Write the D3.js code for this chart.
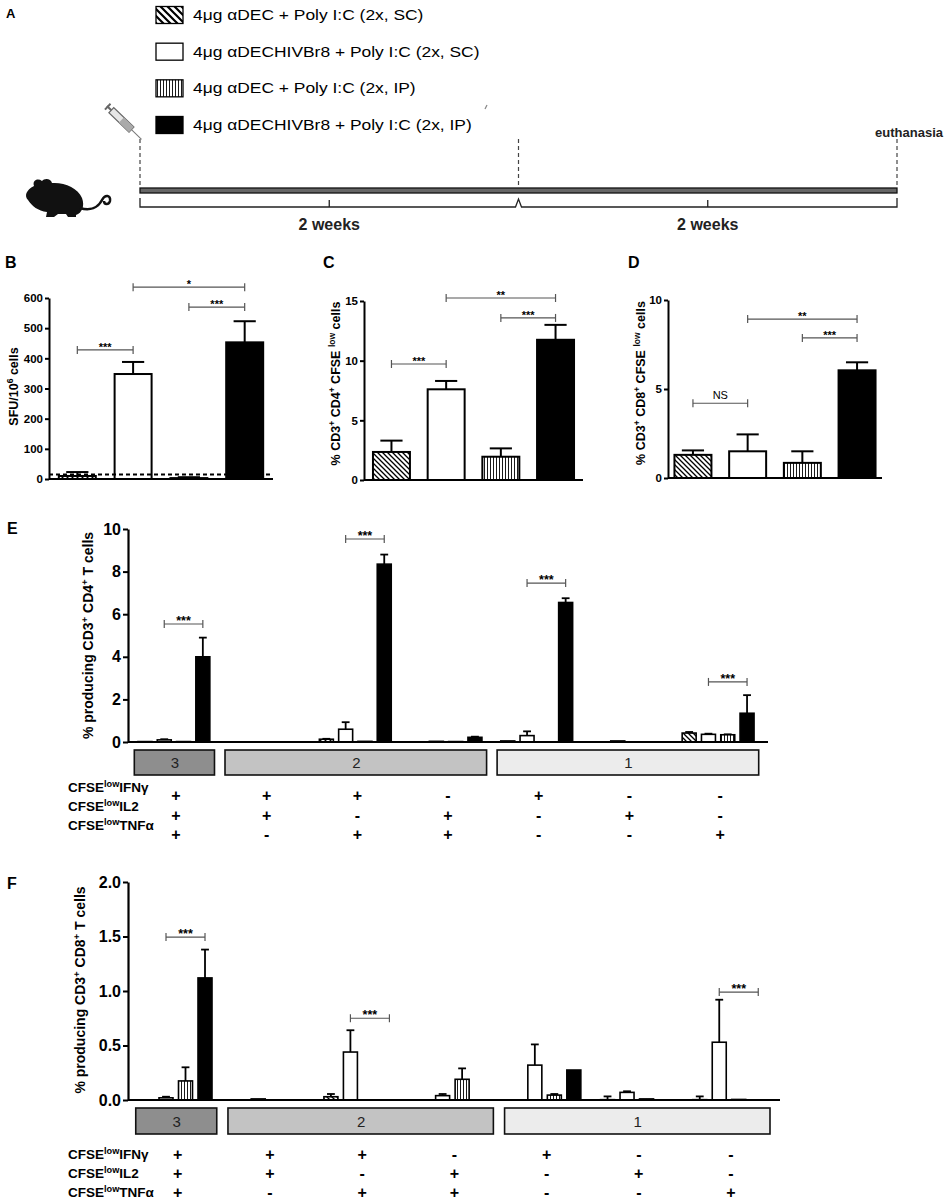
<!DOCTYPE html>
<html>
<head>
<meta charset="utf-8">
<script src="https://cdn.jsdelivr.net/npm/d3@7"></script>
<style>
  body { margin: 0; background: #fff; }
  svg { display: block; }
</style>
</head>
<body>
<div id="mount"></div>
<script>
'use strict';

// ---- data -------------------------------------------------------------
const treatments = ['aDEC SC', 'aDECHIVBr8 SC', 'aDEC IP', 'aDECHIVBr8 IP'];
const legendLabels = [
  '4μg αDEC + Poly I:C (2x, SC)',
  '4μg αDECHIVBr8 + Poly I:C (2x, SC)',
  '4μg αDEC + Poly I:C (2x, IP)',
  '4μg αDECHIVBr8 + Poly I:C (2x, IP)'
];
const timelineWeeks = [0, 2, 4];
const weekLabels = [{ at: 1, text: '2 weeks' }, { at: 3, text: '2 weeks' }];

// B: ELISpot
const sfuMean = [10, 348, 3, 453];
const sfuErr = [13, 40, 3, 70];
const sfuCutoff = 15;
const sfuTicks = [0, 100, 200, 300, 400, 500, 600];
const sfuSig = [
  { a: 0, b: 1, at: 428, text: '***' },
  { a: 1, b: 3, at: 636, text: '*' },
  { a: 2, b: 3, at: 570, text: '***' }
];

// C: CD4 proliferation
const cd4Mean = [2.35, 7.6, 1.95, 11.75];
const cd4Err = [0.95, 0.7, 0.7, 1.25];
const cd4Ticks = [0, 5, 10, 15];
const cd4Sig = [
  { a: 0, b: 1, at: 9.72, text: '***' },
  { a: 1, b: 3, at: 15.25, text: '**' },
  { a: 2, b: 3, at: 13.58, text: '***' }
];

// D: CD8 proliferation
const cd8Mean = [1.3, 1.5, 0.85, 6.05];
const cd8Err = [0.25, 0.95, 0.65, 0.45];
const cd8Ticks = [0, 5, 10];
const cd8Sig = [
  { a: 0, b: 1, at: 4.2, text: 'NS' },
  { a: 1, b: 3, at: 8.93, text: '**' },
  { a: 2, b: 3, at: 7.87, text: '***' }
];

// E / F: cytokine combinations
const combos = ['+++', '++-', '+-+', '-++', '+--', '-+-', '--+'];
const ifngRow = ['+', '+', '+', '-', '+', '-', '-'];
const il2Row  = ['+', '+', '-', '+', '-', '+', '-'];
const tnfRow  = ['+', '-', '+', '+', '-', '-', '+'];
const funcGroups = [
  { label: '3', from: 0, to: 0 },
  { label: '2', from: 1, to: 3 },
  { label: '1', from: 4, to: 6 }
];

const cd4Func = [
  [0.02, 0.1, 0.02, 4.0],
  [0, 0, 0, 0],
  [0.13, 0.6, 0.03, 8.35],
  [0.01, 0.03, 0.02, 0.22],
  [0.05, 0.3, 0, 6.55],
  [0, 0.05, 0, 0],
  [0.42, 0.36, 0.34, 1.35]
];
const cd4FuncErr = [
  [0, 0.03, 0, 0.9],
  [0, 0, 0, 0],
  [0.02, 0.33, 0, 0.45],
  [0, 0, 0, 0.03],
  [0, 0.2, 0, 0.2],
  [0, 0, 0, 0],
  [0.05, 0.03, 0.02, 0.85]
];
const cd4FuncTicks = [0, 2, 4, 6, 8, 10];
const cd4FuncSig = [
  { g: 0, at: 5.54 }, { g: 2, at: 9.53 }, { g: 4, at: 7.46 }, { g: 6, at: 2.82 }
];

const cd8Func = [
  [0, 0.02, 0.175, 1.12],
  [0, 0.01, 0, 0],
  [0.03, 0.44, 0, 0],
  [0, 0.04, 0.19, 0],
  [0, 0.32, 0.045, 0.275],
  [0.003, 0.07, 0.01, 0],
  [0.003, 0.53, 0.005, 0]
];
const cd8FuncErr = [
  [0, 0.01, 0.125, 0.26],
  [0, 0, 0, 0],
  [0.025, 0.2, 0, 0],
  [0, 0.015, 0.1, 0],
  [0, 0.19, 0.01, 0],
  [0.03, 0.01, 0, 0],
  [0.03, 0.39, 0, 0]
];
const cd8FuncTicks = [0, 0.5, 1.0, 1.5, 2.0];
const cd8FuncSig = [{ g: 0, at: 1.495 }, { g: 2, at: 0.75 }, { g: 6, at: 0.99 }];

// ---- drawing ----------------------------------------------------------
const FONT = '"Liberation Sans", Arial, Helvetica, sans-serif';

const svg = d3.select('#mount').append('svg')
    .attr('width', 945)
    .attr('height', 1199)
    .attr('font-family', FONT);

const defs = svg.append('defs');

function hatch(id, w, d, sw) {
  const p = defs.append('pattern')
      .attr('id', id)
      .attr('patternUnits', 'userSpaceOnUse')
      .attr('width', w)
      .attr('height', w);
  p.append('rect').attr('width', w).attr('height', w).attr('fill', '#fff');
  p.append('path').attr('d', d).attr('stroke', '#000').attr('stroke-width', sw);
}
hatch('diag', 5, 'M-1,-1 L6,6 M-1,4 L1,6 M4,-1 L6,1', 1.3);
hatch('vert', 3, 'M1.5,0 V3', 0.9);
hatch('diagBig', 7, 'M-1,-1 L8,8 M-1,6 L1,8 M6,-1 L8,1', 2.2);

const fills = ['url(#diag)', '#fff', 'url(#vert)', '#000'];
const legendFills = ['url(#diagBig)', '#fff', 'url(#vert)', '#000'];

// text with superscript parts: plain strings or [string] for superscript
function rich(textSel, parts, size) {
  let shifted = 0;
  parts.forEach(p => {
    const sup = Array.isArray(p);
    const shift = sup ? -size * 0.38 : 0;
    textSel.append('tspan')
        .text(sup ? p[0] : p)
        .attr('dy', shift - shifted)
        .attr('font-size', sup ? size * 0.68 : size);
    shifted = shift;
  });
}

function letter(txt, x, y, size) {
  svg.append('text')
      .attr('x', x).attr('y', y)
      .attr('font-size', size)
      .attr('font-weight', 'bold')
      .text(txt);
}

function styleAxis(g, size) {
  g.attr('font-family', FONT).attr('font-size', size).attr('font-weight', 'bold');
  g.select('.domain').attr('stroke', '#000').attr('stroke-width', 2);
  g.selectAll('.tick line').attr('stroke', '#000').attr('stroke-width', 2);
  g.selectAll('.tick text').attr('fill', '#000');
}

function bracket(g, x1, x2, y, text, opt) {
  g.append('line')
      .attr('x1', x1).attr('x2', x2).attr('y1', y).attr('y2', y)
      .attr('stroke', '#555').attr('stroke-width', 1.2);
  [x1, x2].forEach(x => g.append('line')
      .attr('x1', x).attr('x2', x).attr('y1', y - opt.tick).attr('y2', y + opt.tick)
      .attr('stroke', '#555').attr('stroke-width', 1.2));
  const ns = text === 'NS';
  g.append('text')
      .attr('x', (x1 + x2) / 2)
      .attr('y', ns ? y - 4 : y + opt.starDy)
      .attr('text-anchor', 'middle')
      .attr('font-size', ns ? opt.nsSize : opt.starSize)
      .attr('font-weight', ns ? 'normal' : 'bold')
      .text(text);
}

// ---- panel A ----------------------------------------------------------
letter('A', 6, 18, 13);

const legend = svg.append('g');
const legendRowY = d3.scalePoint().domain(legendLabels).range([15, 125]);
legend.selectAll('rect')
    .data(legendLabels)
  .enter().append('rect')
    .attr('x', 156)
    .attr('y', d => legendRowY(d) - 8.5)
    .attr('width', 27)
    .attr('height', 17)
    .attr('fill', (d, i) => legendFills[i])
    .attr('stroke', '#000')
    .attr('stroke-width', 1.3);
legend.selectAll('text')
    .data(legendLabels)
  .enter().append('text')
    .attr('x', 193)
    .attr('y', d => legendRowY(d) + 5)
    .attr('font-size', 15)
    .text(d => d)
    .each(function () {
      const w = this.getComputedTextLength();
      d3.select(this).attr('textLength', w * 1.16).attr('lengthAdjust', 'spacingAndGlyphs');
    });

const xWeek = d3.scaleLinear().domain([0, 4]).range([140, 897]);
const timeline = svg.append('g');

timeline.selectAll('line.dash')
    .data(timelineWeeks)
  .enter().append('line')
    .attr('class', 'dash')
    .attr('x1', d => xWeek(d)).attr('x2', d => xWeek(d))
    .attr('y1', 139).attr('y2', 188)
    .attr('stroke', '#444')
    .attr('stroke-width', 1.2)
    .attr('stroke-dasharray', '4,3');

timeline.append('rect')
    .attr('x', xWeek(0)).attr('y', 188)
    .attr('width', xWeek(4) - xWeek(0)).attr('height', 5)
    .attr('fill', '#666').attr('stroke', '#111').attr('stroke-width', 1.3);

timeline.append('path')
    .attr('d', `M${xWeek(0)},198 V207 H${xWeek(2) - 3} L${xWeek(2)},199 L${xWeek(2) + 3},207 H${xWeek(4)} V198`)
    .attr('fill', 'none').attr('stroke', '#222').attr('stroke-width', 1.3);

timeline.selectAll('line.mid')
    .data(weekLabels)
  .enter().append('line')
    .attr('class', 'mid')
    .attr('x1', d => xWeek(d.at)).attr('x2', d => xWeek(d.at))
    .attr('y1', 200).attr('y2', 207)
    .attr('stroke', '#222').attr('stroke-width', 1.3);

timeline.selectAll('text.week')
    .data(weekLabels)
  .enter().append('text')
    .attr('class', 'week')
    .attr('x', d => xWeek(d.at))
    .attr('y', 230)
    .attr('text-anchor', 'middle')
    .attr('font-size', 16)
    .attr('font-weight', 'bold')
    .attr('fill', '#222')
    .text(d => d.text);

timeline.append('text')
    .attr('x', 943).attr('y', 137)
    .attr('text-anchor', 'end')
    .attr('font-size', 13)
    .attr('font-weight', 'bold')
    .attr('fill', '#222')
    .text('euthanasia');

// syringe
const syr = svg.append('g').attr('transform', 'translate(107,106) rotate(44)');
syr.append('line').attr('x1', 0).attr('x2', 6).attr('y1', 0).attr('y2', 0)
    .attr('stroke', '#666').attr('stroke-width', 2);
syr.append('line').attr('x1', 1).attr('x2', 1).attr('y1', -4).attr('y2', 4)
    .attr('stroke', '#666').attr('stroke-width', 2);
syr.append('rect').attr('x', 6).attr('y', -3.5).attr('width', 28).attr('height', 7)
    .attr('fill', '#e6e6e6').attr('stroke', '#666').attr('stroke-width', 1.2);
syr.append('rect').attr('x', 20).attr('y', -3.5).attr('width', 14).attr('height', 7)
    .attr('fill', '#aaa').attr('stroke', 'none');
syr.append('line').attr('x1', 34).attr('x2', 48).attr('y1', 0).attr('y2', 0)
    .attr('stroke', '#777').attr('stroke-width', 1);
svg.append('line').attr('x1', 485).attr('x2', 487).attr('y1', 109).attr('y2', 105)
    .attr('stroke', '#888').attr('stroke-width', 1.2);

// mouse
const mouse = svg.append('g').attr('transform', 'translate(24,178)');
mouse.append('path')
    .attr('d', 'M10,8 C8,2 14,0 18,3 C20,0 27,0 28,5 C40,4 54,10 58,20 C61,28 58,35 52,37 L52,39 L44,39 L42,36 L34,36 L30,39 L22,39 L23,34 C14,33 8,28 4,22 C0,18 2,12 10,8 Z')
    .attr('fill', '#111');
mouse.append('path')
    .attr('d', 'M56,30 C66,33 74,30 78,22 C81,16 87,17 86,23 C85,27 80,27 80,23')
    .attr('fill', 'none').attr('stroke', '#111').attr('stroke-width', 2.5);

// ---- panels B, C, D ---------------------------------------------------
function barPanel(o) {
  const g = svg.append('g');
  const x = d3.scaleBand().domain(treatments)
      .range([o.left, o.right]).paddingInner(o.pi).paddingOuter(o.po);
  const y = d3.scaleLinear().domain([0, o.max]).range([o.bottom, o.top]);
  const bw = x.bandwidth();
  const rows = o.mean.map((v, i) => ({ t: treatments[i], v, e: o.err[i], i }));

  // error bars (drawn first so bar outlines sit on top)
  const eb = g.selectAll('g.err').data(rows.filter(d => d.e > 0)).enter().append('g');
  eb.append('line')
      .attr('x1', d => x(d.t) + bw / 2).attr('x2', d => x(d.t) + bw / 2)
      .attr('y1', d => y(d.v)).attr('y2', d => y(d.v + d.e))
      .attr('stroke', '#000').attr('stroke-width', 2);
  eb.append('line')
      .attr('x1', d => x(d.t) + bw * 0.2).attr('x2', d => x(d.t) + bw * 0.8)
      .attr('y1', d => y(d.v + d.e)).attr('y2', d => y(d.v + d.e))
      .attr('stroke', '#000').attr('stroke-width', 2);

  g.selectAll('rect.bar')
      .data(rows)
    .enter().append('rect')
      .attr('x', d => x(d.t))
      .attr('y', d => y(d.v))
      .attr('width', bw)
      .attr('height', d => y(0) - y(d.v))
      .attr('fill', d => fills[d.i])
      .attr('stroke', '#000')
      .attr('stroke-width', 2);

  if (o.cutoff != null) {
    g.append('line')
        .attr('x1', o.left).attr('x2', o.right)
        .attr('y1', y(o.cutoff)).attr('y2', y(o.cutoff))
        .attr('stroke', '#000').attr('stroke-width', 2).attr('stroke-dasharray', '4,3');
  }

  g.append('line')
      .attr('x1', o.left).attr('x2', o.right)
      .attr('y1', y(0)).attr('y2', y(0))
      .attr('stroke', '#000').attr('stroke-width', 2);

  const ax = g.append('g')
      .attr('transform', `translate(${o.left},0)`)
      .call(d3.axisLeft(y).tickValues(o.ticks).tickSize(4).tickSizeOuter(0).tickPadding(2));
  styleAxis(ax, 11.5);

  o.sig.forEach(s => bracket(g,
      x(treatments[s.a]) + bw / 2, x(treatments[s.b]) + bw / 2, y(s.at), s.text,
      { tick: 4, starDy: 1, starSize: 11, nsSize: 11 }));

  const lab = g.append('text')
      .attr('transform', `translate(${o.labelX},${(o.top + o.bottom) / 2 + o.labelDy}) rotate(-90)`)
      .attr('text-anchor', 'middle')
      .attr('font-weight', 'bold');
  rich(lab, o.label, 12.5);
}

letter('B', 5, 268, 16);
letter('C', 323, 268, 16);
letter('D', 628, 268, 16);

barPanel({
  left: 49, right: 273, pi: 0.337, po: 0.176, bottom: 479, top: 298, max: 600,
  mean: sfuMean, err: sfuErr, ticks: sfuTicks, sig: sfuSig, cutoff: sfuCutoff,
  label: ['SFU/10', ['6'], ' cells'], labelX: 18, labelDy: -2
});
barPanel({
  left: 364, right: 583, pi: 0.324, po: 0.164, bottom: 480, top: 301, max: 15,
  mean: cd4Mean, err: cd4Err, ticks: cd4Ticks, sig: cd4Sig,
  label: ['% CD3', ['+'], ' CD4', ['+'], ' CFSE ', ['low'], ' cells'], labelX: 340, labelDy: -7
});
barPanel({
  left: 668, right: 882, pi: 0.324, po: 0.118, bottom: 478, top: 300, max: 10,
  mean: cd8Mean, err: cd8Err, ticks: cd8Ticks, sig: cd8Sig,
  label: ['% CD3', ['+'], ' CD8', ['+'], ' CFSE ', ['low'], ' cells'], labelX: 645, labelDy: -6
});

// ---- panels E, F ------------------------------------------------------
function funcPanel(o) {
  const g = svg.append('g');
  const xg = d3.scaleBand().domain(combos)
      .range([o.a, o.b]).paddingInner(o.pi).paddingOuter(0);
  const xt = d3.scaleBand().domain(treatments)
      .range([0, xg.bandwidth()]).paddingInner(o.ti).paddingOuter(o.ti / 2);
  const y = d3.scaleLinear().domain([0, o.max]).range([o.bottom, o.top]);
  const bw = xt.bandwidth();

  const rows = [];
  o.mean.forEach((row, gi) => row.forEach((v, ti) => rows.push({
    c: combos[gi], t: treatments[ti], i: ti, v, e: o.err[gi][ti]
  })));
  const bx = d => xg(d.c) + xt(d.t);

  const eb = g.selectAll('g.err').data(rows.filter(d => d.e > 0)).enter().append('g');
  eb.append('line')
      .attr('x1', d => bx(d) + bw / 2).attr('x2', d => bx(d) + bw / 2)
      .attr('y1', d => y(d.v)).attr('y2', d => y(d.v + d.e))
      .attr('stroke', '#000').attr('stroke-width', 1.8);
  eb.append('line')
      .attr('x1', d => bx(d) + bw * 0.22).attr('x2', d => bx(d) + bw * 0.78)
      .attr('y1', d => y(d.v + d.e)).attr('y2', d => y(d.v + d.e))
      .attr('stroke', '#000').attr('stroke-width', 1.8);

  g.selectAll('rect.bar')
      .data(rows.filter(d => d.v > 0))
    .enter().append('rect')
      .attr('x', bx)
      .attr('y', d => y(d.v))
      .attr('width', bw)
      .attr('height', d => y(0) - y(d.v))
      .attr('fill', d => fills[d.i])
      .attr('stroke', '#000')
      .attr('stroke-width', 1.6);

  g.append('line')
      .attr('x1', o.axisLeft).attr('x2', o.axisRight)
      .attr('y1', y(0)).attr('y2', y(0))
      .attr('stroke', '#000').attr('stroke-width', 2.2);

  const ax = g.append('g')
      .attr('transform', `translate(${o.axisLeft},0)`)
      .call(d3.axisLeft(y).tickValues(o.ticks).tickSize(5).tickSizeOuter(0).tickPadding(2)
        .tickFormat(o.fmt));
  styleAxis(ax, 16);
  ax.select('.domain').attr('stroke-width', 2.2);

  o.sig.forEach(s => bracket(g,
      xg(combos[s.g]) + xt(treatments[1]) + bw / 2,
      xg(combos[s.g]) + xt(treatments[3]) + bw / 2,
      y(s.at), '***', { tick: 4, starDy: 1, starSize: 12.5, nsSize: 12 }));

  const lab = g.append('text')
      .attr('transform', `translate(${o.labelX},${(o.top + o.bottom) / 2 + o.labelDy}) rotate(-90)`)
      .attr('text-anchor', 'middle')
      .attr('font-weight', 'bold');
  rich(lab, o.label, 14);

  // combination boxes
  const box = g.selectAll('g.box')
      .data(funcGroups)
    .enter().append('g');
  box.append('rect')
      .attr('x', d => xg(combos[d.from]) - 1)
      .attr('y', o.boxTop)
      .attr('width', d => xg(combos[d.to]) + xg.bandwidth() - xg(combos[d.from]) + 3)
      .attr('height', o.boxH)
      .attr('fill', (d, i) => o.boxFills[i])
      .attr('stroke', '#111')
      .attr('stroke-width', 1.6);
  box.append('text')
      .attr('x', d => (xg(combos[d.from]) + xg(combos[d.to]) + xg.bandwidth()) / 2 + 1)
      .attr('y', o.boxTop + o.boxH / 2 + 5.5)
      .attr('text-anchor', 'middle')
      .attr('font-size', 15)
      .attr('fill', '#222')
      .text(d => d.label);

  // cytokine rows
  const rowDefs = [
    { name: 'IFNγ', signs: ifngRow },
    { name: 'IL2', signs: il2Row },
    { name: 'TNFα', signs: tnfRow }
  ];
  rowDefs.forEach((r, ri) => {
    const t = g.append('text')
        .attr('x', 68)
        .attr('y', o.rowY[ri])
        .attr('font-weight', 'bold');
    rich(t, ['CFSE', ['low'], r.name], 13.5);
    g.selectAll(null)
        .data(r.signs)
      .enter().append('text')
        .attr('x', (d, i) => xg(combos[i]) + xg.bandwidth() / 2 + 2)
        .attr('y', o.signY[ri])
        .attr('dominant-baseline', 'central')
        .attr('text-anchor', 'middle')
        .attr('font-size', 16)
        .attr('font-weight', 'bold')
        .text(d => d);
  });
}

const boxFills = ['#8e8e8e', '#c3c3c3', '#ececec'];

letter('E', 7, 534, 16);
funcPanel({
  a: 135.3, b: 756.7, pi: 0.149, ti: 0.275, axisLeft: 128, axisRight: 768,
  bottom: 742, top: 529, max: 10, ticks: cd4FuncTicks, fmt: d3.format('d'),
  mean: cd4Func, err: cd4FuncErr, sig: cd4FuncSig,
  label: ['% producing CD3', ['+'], ' CD4', ['+'], ' T cells'], labelX: 93, labelDy: 0,
  boxTop: 750, boxH: 25, boxFills,
  rowY: [792, 811, 830], signY: [795, 815, 834]
});

letter('F', 7, 889, 16);
funcPanel({
  a: 136.75, b: 768, pi: 0.154, ti: 0.282, axisLeft: 128, axisRight: 780,
  bottom: 1100, top: 882, max: 2, ticks: cd8FuncTicks, fmt: d3.format('.1f'),
  mean: cd8Func, err: cd8FuncErr, sig: cd8FuncSig,
  label: ['% producing CD3', ['+'], ' CD8', ['+'], ' T cells'], labelX: 85, labelDy: -1,
  boxTop: 1108, boxH: 26, boxFills,
  rowY: [1159, 1178, 1197], signY: [1154, 1173, 1192]
});
</script>
</body>
</html>
